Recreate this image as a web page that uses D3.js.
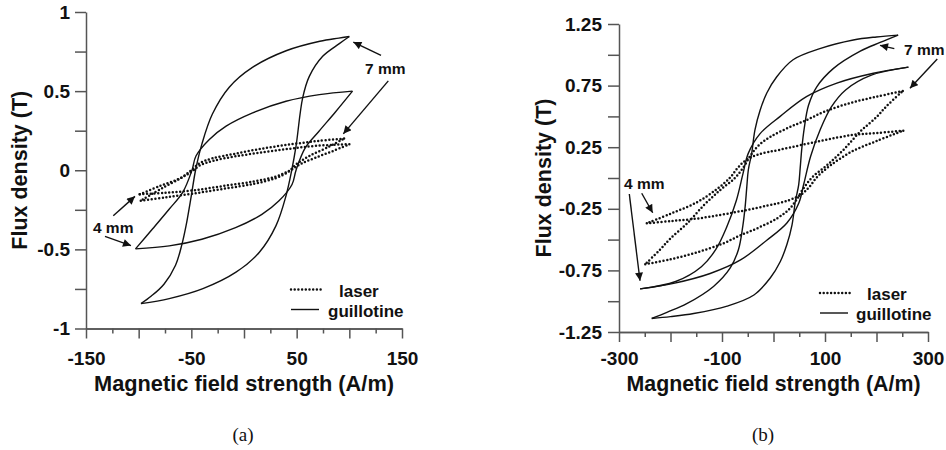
<!DOCTYPE html>
<html>
<head>
<meta charset="utf-8">
<script src="https://cdn.jsdelivr.net/npm/d3@7"></script>
<style>
  html, body { margin: 0; padding: 0; background: #fff; }
  svg { display: block; }
  .lbl { font-family: "Liberation Sans", Arial, Helvetica, sans-serif; font-weight: bold; fill: #111; }
  .cap { font-family: "Liberation Serif", "Times New Roman", serif; fill: #111; }
</style>
</head>
<body>
<svg id="chart" width="946" height="450"></svg>
<script>
// ---------- Panel (a): 4 mm and 7 mm strips, H up to ~100 A/m ----------
const aMajorX = [-150, -100, -50, 0, 50, 100, 150];
const aMinorX = [-125, -75, -25, 25, 75, 125];
const aLabelX = [-150, -50, 50, 150];
const aTicksY = [-1, -0.75, -0.5, -0.25, 0, 0.25, 0.5, 0.75, 1];
const aLabelY = [-1, -0.5, 0, 0.5, 1];

// B-H loops as [H (A/m), B (T)]; "Desc" = falling-field branch, "Asc" = rising-field branch
const aGuil7Desc = [[100,0.845],[90,0.835],[72,0.815],[40,0.755],[8,0.65],[-14,0.525],[-30,0.355],[-40,0.165],[-46,0.0],[-50,-0.16],[-55,-0.35],[-59,-0.47],[-65,-0.6],[-76,-0.72],[-88,-0.795],[-97.8,-0.843]];
const aGuil7Asc  = [[-97.8,-0.843],[-71,-0.811],[-39,-0.748],[-7.6,-0.644],[14.6,-0.518],[30.4,-0.35],[39.9,-0.161],[45.3,0.0],[49.4,0.153],[55.7,0.457],[62,0.593],[74.7,0.72],[90.5,0.80],[100,0.845]];
const aGuil4Desc = [[103,0.50],[71.5,0.478],[39.9,0.436],[8.2,0.363],[-17,0.279],[-32.9,0.195],[-45.6,0.09],[-49.4,0.0],[-58.2,-0.14],[-70.9,-0.245],[-86.7,-0.37],[-103,-0.497]];
const aGuil4Asc  = [[-103,-0.497],[-71,-0.478],[-40,-0.436],[-8,-0.363],[17,-0.279],[33,-0.195],[45.6,-0.09],[49.4,0.0],[58,0.14],[71,0.245],[87,0.37],[103,0.50]];
const aLaser7Desc = [[95,0.20],[70,0.185],[46,0.165],[20,0.14],[-8,0.105],[-30,0.075],[-42,0.045],[-50,0.0],[-60,-0.05],[-77,-0.11],[-98,-0.193]];
const aLaser7Asc  = [[-98,-0.193],[-75,-0.172],[-49,-0.148],[-20,-0.118],[10,-0.085],[30,-0.05],[42,-0.01],[50,0.04],[62,0.09],[78,0.14],[95,0.20]];
const aLaser4Desc = [[100,0.165],[70,0.155],[46,0.138],[20,0.115],[-8,0.088],[-30,0.058],[-42,0.03],[-50,-0.01],[-62,-0.055],[-80,-0.10],[-99,-0.152]];
const aLaser4Asc  = [[-99,-0.152],[-75,-0.142],[-49,-0.128],[-20,-0.10],[10,-0.07],[30,-0.04],[44,0.0],[54,0.04],[68,0.08],[84,0.12],[100,0.165]];

// annotation labels and arrows, in data units: [text, H, B] and [H0, B0, H1, B1]
const aNotes  = [["7 mm", 114.9, 0.609], ["4 mm", -143.4, -0.394]];
const aArrows = [[130.1,0.726,103.8,0.81],[137,0.565,94.3,0.23],[-124.1,-0.287,-103.5,-0.165],[-132,-0.418,-107.3,-0.476]];

// ---------- Panel (b): H up to ~250 A/m ----------
const bMajorX = [-300, -200, -100, 0, 100, 200, 300];
const bMinorX = [-250, -150, -50, 50, 150, 250];
const bLabelX = [-300, -100, 100, 300];
const bTicksY = [-1.25, -1, -0.75, -0.5, -0.25, 0, 0.25, 0.5, 0.75, 1, 1.25];
const bLabelY = [-1.25, -0.75, -0.25, 0.25, 0.75, 1.25];

const bGuil7Desc = [[242,1.16],[200,1.145],[155,1.12],[90,1.05],[38,0.96],[6,0.82],[-13,0.69],[-26,0.55],[-36,0.39],[-42.4,0.20],[-48.9,0.065],[-51.8,-0.07],[-55,-0.23],[-59.6,-0.39],[-68,-0.58],[-84,-0.73],[-116.5,-0.88],[-168.5,-1.02],[-207,-1.09],[-236.5,-1.14]];
const bGuil7Asc  = [[-236.5,-1.14],[-200,-1.125],[-155,-1.10],[-90,-1.04],[-38,-0.95],[-6,-0.81],[13,-0.68],[26,-0.54],[36,-0.38],[42.4,-0.19],[48.9,-0.055],[51.8,0.08],[55,0.24],[59.6,0.40],[68,0.59],[84,0.74],[116.5,0.89],[168.5,1.03],[207,1.10],[242,1.16]];
const bGuil4Desc = [[262,0.90],[194,0.85],[123,0.77],[64,0.66],[13,0.50],[-26,0.36],[-49,0.20],[-59,0.04],[-72,-0.18],[-91,-0.40],[-112,-0.58],[-140,-0.72],[-190,-0.84],[-259,-0.90]];
const bGuil4Asc  = [[-259,-0.90],[-194,-0.855],[-123,-0.775],[-64,-0.665],[-13,-0.505],[26,-0.365],[49,-0.205],[59,-0.045],[72,0.175],[91,0.395],[112,0.575],[140,0.715],[190,0.835],[262,0.90]];
const bLaser7Desc = [[251,0.706],[200,0.66],[150,0.61],[100,0.54],[64,0.47],[30,0.41],[-6,0.335],[-30,0.26],[-45,0.18],[-58,0.09],[-75,0.0],[-104,-0.10],[-135,-0.22],[-168,-0.37],[-200,-0.49],[-220,-0.58],[-249,-0.70]];
const bLaser7Asc  = [[-249,-0.70],[-200,-0.66],[-150,-0.605],[-100,-0.535],[-64,-0.465],[-30,-0.405],[6,-0.33],[30,-0.255],[45,-0.175],[58,-0.085],[75,0.005],[104,0.105],[135,0.225],[168,0.375],[200,0.495],[220,0.585],[251,0.706]];
const bLaser4Desc = [[252,0.384],[200,0.365],[155,0.35],[90,0.30],[13,0.23],[-30,0.19],[-55,0.14],[-70,0.08],[-85,0.0],[-110,-0.09],[-150,-0.20],[-200,-0.29],[-246,-0.368]];
const bLaser4Asc  = [[-246,-0.368],[-200,-0.35],[-150,-0.33],[-90,-0.29],[-13,-0.225],[30,-0.18],[55,-0.13],[70,-0.07],[85,0.01],[110,0.10],[150,0.21],[200,0.30],[252,0.384]];

const bNotes  = [["7 mm", 253.4, 0.998], ["4 mm", -290.3, -0.089]];
const bArrows = [[234.6,1.05,206.8,1.077],[318,0.966,265,0.728],[-280,-0.13,-259.2,-0.834],[-255.9,-0.124,-234.6,-0.282]];

const legendNames = ["laser", "guillotine"];
const xTitle = "Magnetic field strength (A/m)";
const yTitle = "Flux density (T)";

const SANS = '"Liberation Sans", Arial, Helvetica, sans-serif';
const svg = d3.select("#chart");
svg.append("rect").attr("width", 946).attr("height", 450).attr("fill", "#fff");

svg.append("defs").append("marker")
  .attr("id", "arrowhead")
  .attr("viewBox", "0 0 10 10")
  .attr("refX", 10).attr("refY", 5)
  .attr("markerUnits", "userSpaceOnUse")
  .attr("markerWidth", 9).attr("markerHeight", 8)
  .attr("orient", "auto")
  .append("path").attr("d", "M0,0 L10,5 L0,10 Z").attr("fill", "#111");

const AXIS = "#555";
const DOT = { width: 2.5, dash: "0 3.7" };

function drawPanel(p) {
  const x = d3.scaleLinear().domain(p.xDomain).range(p.xRange);
  const y = d3.scaleLinear().domain(p.yDomain).range(p.yRange);
  const g = svg.append("g");
  const y0 = p.yRange[0];

  const styleAxis = sel => {
    sel.attr("font-family", SANS).attr("font-size", 19);
    sel.selectAll(".domain").attr("stroke", AXIS).attr("stroke-width", 1.5);
    sel.selectAll(".tick line").attr("stroke", AXIS).attr("stroke-width", 1.5);
    sel.selectAll("text").attr("class", "lbl").attr("font-weight", "bold").attr("fill", "#111");
  };

  // x axis: short minor ticks, longer major ticks, labels on every other major
  g.append("g").attr("transform", `translate(0,${y0})`)
    .call(d3.axisBottom(x).tickValues(p.xMinor).tickSize(5).tickSizeOuter(0).tickFormat(""))
    .call(styleAxis);
  const xa = g.append("g").attr("transform", `translate(0,${y0})`)
    .call(d3.axisBottom(x).tickValues(p.xMajor).tickSize(10).tickSizeOuter(0)
      .tickFormat(d => p.xLabels.includes(d) ? String(d) : ""))
    .call(styleAxis);
  xa.selectAll("text").attr("y", p.xLabelBase).attr("dy", 0);

  // y axis
  g.append("g").attr("transform", `translate(${p.xRange[0]},0)`)
    .call(d3.axisLeft(y).tickValues(p.yTicks).tickSize(11).tickSizeOuter(0).tickPadding(p.yPad)
      .tickFormat(d => p.yLabels.includes(d) ? String(d) : ""))
    .call(styleAxis);

  // titles
  g.append("text").attr("class", "lbl").attr("font-size", 21.5)
    .attr("text-anchor", "middle")
    .attr("x", (p.xRange[0] + p.xRange[1]) / 2).attr("y", p.xTitleBase)
    .attr("textLength", p.xTitleLen).attr("lengthAdjust", "spacingAndGlyphs")
    .text(xTitle);
  g.append("text").attr("class", "lbl").attr("font-size", 21.5)
    .attr("text-anchor", "middle")
    .attr("transform", `translate(${p.yTitleX},${(p.yRange[0] + p.yRange[1]) / 2}) rotate(-90)`)
    .text(yTitle);

  // loops
  const line = d3.line().x(d => x(d[0])).y(d => y(d[1])).curve(d3.curveCatmullRom.alpha(0.5));
  p.solid.forEach(branch => {
    g.append("path").attr("d", line(branch)).attr("fill", "none")
      .attr("stroke", "#111").attr("stroke-width", 1.4);
  });
  p.dotted.forEach(branch => {
    g.append("path").attr("d", line(branch)).attr("fill", "none")
      .attr("stroke", "#111").attr("stroke-width", DOT.width)
      .attr("stroke-dasharray", DOT.dash).attr("stroke-linecap", "round");
  });

  // annotations
  p.notes.forEach(n => {
    g.append("text").attr("class", "lbl").attr("font-size", 15.5)
      .attr("x", x(n[1])).attr("y", y(n[2])).text(n[0]);
  });
  p.arrows.forEach(a => {
    g.append("line")
      .attr("x1", x(a[0])).attr("y1", y(a[1]))
      .attr("x2", x(a[2])).attr("y2", y(a[3]))
      .attr("stroke", "#111").attr("stroke-width", 1.4)
      .attr("marker-end", "url(#arrowhead)");
  });

  // legend
  const L = p.legend;
  g.append("line").attr("x1", L.x0).attr("x2", L.x0 + 31).attr("y1", L.y).attr("y2", L.y)
    .attr("stroke", "#111").attr("stroke-width", DOT.width)
    .attr("stroke-dasharray", DOT.dash).attr("stroke-linecap", "round");
  g.append("line").attr("x1", L.x0).attr("x2", L.x0 + 28).attr("y1", L.y + 20).attr("y2", L.y + 20)
    .attr("stroke", "#111").attr("stroke-width", 1.4);
  g.append("text").attr("class", "lbl").attr("font-size", 17)
    .attr("x", L.x0 + L.t1).attr("y", L.y + 7).text(legendNames[0]);
  g.append("text").attr("class", "lbl").attr("font-size", 17)
    .attr("x", L.x0 + L.t2).attr("y", L.y + 27).text(legendNames[1]);

  // caption
  svg.append("text").attr("class", "cap").attr("font-size", 19)
    .attr("text-anchor", "middle").attr("x", p.capX).attr("y", 441).text(p.caption);
}

drawPanel({
  xDomain: [-150, 150], xRange: [86, 402],
  yDomain: [-1, 1], yRange: [328.5, 12],
  xMajor: aMajorX, xMinor: aMinorX, xLabels: aLabelX,
  yTicks: aTicksY, yLabels: aLabelY, yPad: 5,
  xLabelBase: 36, xTitleBase: 390.5, xTitleLen: 300, yTitleX: 27,
  solid: [aGuil7Desc, aGuil7Asc, aGuil4Desc, aGuil4Asc],
  dotted: [aLaser7Desc, aLaser7Asc, aLaser4Desc, aLaser4Asc],
  notes: aNotes, arrows: aArrows,
  legend: { x0: 291, y: 289.5, t1: 48, t2: 37 },
  caption: "(a)", capX: 243
});

drawPanel({
  xDomain: [-300, 300], xRange: [619, 928],
  yDomain: [-1.25, 1.25], yRange: [332, 24],
  xMajor: bMajorX, xMinor: bMinorX, xLabels: bLabelX,
  yTicks: bTicksY, yLabels: bLabelY, yPad: 6,
  xLabelBase: 33, xTitleBase: 390.5, xTitleLen: 294, yTitleX: 551,
  solid: [bGuil7Desc, bGuil7Asc, bGuil4Desc, bGuil4Asc],
  dotted: [bLaser7Desc, bLaser7Asc, bLaser4Desc, bLaser4Asc],
  notes: bNotes, arrows: bArrows,
  legend: { x0: 820, y: 293, t1: 47, t2: 36 },
  caption: "(b)", capX: 763
});
</script>
</body>
</html>
